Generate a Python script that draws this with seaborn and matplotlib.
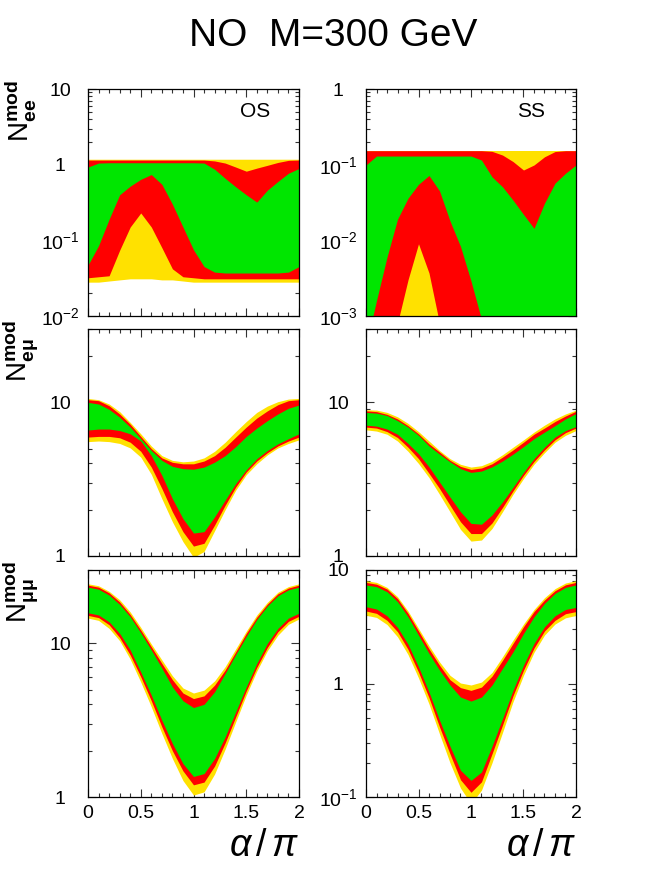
import numpy as np
import matplotlib
matplotlib.use("Agg")
import matplotlib.pyplot as plt
import matplotlib.ticker as mticker
import seaborn as sns

# alpha / pi grid
alpha = [0.0, 0.1, 0.2, 0.3, 0.4, 0.5, 0.6, 0.7, 0.8, 0.9, 1.0,
         1.1, 1.2, 1.3, 1.4, 1.5, 1.6, 1.7, 1.8, 1.9, 2.0]

# N_ee, OS
ee_os_y_lo = [0.028, 0.028, 0.029, 0.030, 0.031, 0.031, 0.031, 0.030, 0.030, 0.029, 0.028,
              0.028, 0.028, 0.028, 0.028, 0.028, 0.028, 0.028, 0.028, 0.028, 0.028]
ee_os_y_hi = [1.18, 1.18, 1.18, 1.18, 1.18, 1.18, 1.18, 1.18, 1.18, 1.18, 1.18,
              1.18, 1.18, 1.18, 1.18, 1.18, 1.18, 1.18, 1.18, 1.18, 1.18]
ee_os_r_lo = [0.032, 0.033, 0.034, 0.074, 0.15, 0.23, 0.15, 0.08, 0.042, 0.033, 0.032,
              0.031, 0.031, 0.031, 0.031, 0.031, 0.031, 0.031, 0.031, 0.031, 0.031]
ee_os_r_hi = [1.15, 1.15, 1.15, 1.15, 1.15, 1.15, 1.15, 1.15, 1.15, 1.15, 1.15,
              1.15, 1.12, 1.05, 0.93, 0.82, 0.90, 0.98, 1.07, 1.14, 1.15]
ee_os_g_lo = [0.047, 0.085, 0.19, 0.40, 0.52, 0.64, 0.74, 0.55, 0.30, 0.15, 0.075,
              0.045, 0.038, 0.037, 0.037, 0.037, 0.037, 0.037, 0.037, 0.038, 0.045]
ee_os_g_hi = [0.93, 1.05, 1.06, 1.06, 1.06, 1.06, 1.06, 1.06, 1.06, 1.06, 1.06,
              1.05, 0.87, 0.66, 0.51, 0.40, 0.32, 0.46, 0.60, 0.77, 0.89]

# N_ee, SS
ee_ss_y_lo = [0.0005, 0.0005, 0.0005, 0.0005, 0.0005, 0.0005, 0.0005, 0.0005, 0.0005, 0.0005, 0.0005,
              0.0005, 0.0005, 0.0005, 0.0005, 0.0005, 0.0005, 0.0005, 0.0005, 0.0005, 0.0005]
ee_ss_y_hi = [0.153, 0.153, 0.153, 0.153, 0.153, 0.153, 0.153, 0.153, 0.153, 0.153, 0.153,
              0.153, 0.153, 0.153, 0.153, 0.153, 0.153, 0.153, 0.153, 0.153, 0.153]
ee_ss_r_lo = [0.0005, 0.0005, 0.0005, 0.0008, 0.0030, 0.0090, 0.0037, 0.0008, 0.0005, 0.0005, 0.0005,
              0.0005, 0.0005, 0.0005, 0.0005, 0.0005, 0.0005, 0.0005, 0.0005, 0.0005, 0.0005]
ee_ss_r_hi = [0.153, 0.153, 0.153, 0.153, 0.153, 0.153, 0.153, 0.153, 0.153, 0.153, 0.153,
              0.153, 0.150, 0.134, 0.110, 0.085, 0.099, 0.127, 0.149, 0.153, 0.153]
ee_ss_g_lo = [0.0004, 0.0016, 0.006, 0.019, 0.036, 0.055, 0.072, 0.045, 0.018, 0.0083, 0.0029,
              0.0009, 0.0004, 0.0004, 0.0004, 0.0004, 0.0004, 0.0004, 0.0004, 0.0004, 0.0004]
ee_ss_g_hi = [0.099, 0.13, 0.13, 0.13, 0.13, 0.13, 0.13, 0.13, 0.13, 0.13, 0.13,
              0.115, 0.069, 0.051, 0.034, 0.022, 0.0144, 0.031, 0.057, 0.077, 0.099]

# N_emu, OS
em_os_y_lo = [5.55, 5.6, 5.55, 5.4, 5.05, 4.4, 3.4, 2.36, 1.67, 1.24, 0.98,
              1.07, 1.46, 2.0, 2.68, 3.38, 3.98, 4.55, 5.05, 5.4, 5.7]
em_os_y_hi = [10.6, 10.4, 9.75, 8.7, 7.4, 6.24, 5.2, 4.5, 4.19, 4.1, 4.15,
              4.35, 4.8, 5.5, 6.45, 7.5, 8.6, 9.45, 10.1, 10.5, 10.6]
em_os_r_lo = [5.94, 6.0, 6.0, 5.88, 5.5, 4.8, 3.79, 2.75, 1.94, 1.44, 1.16,
              1.21, 1.59, 2.14, 2.81, 3.52, 4.15, 4.7, 5.2, 5.6, 5.94]
em_os_r_hi = [10.4, 10.25, 9.5, 8.4, 7.2, 6.0, 5.0, 4.35, 4.07, 3.98, 3.98,
              4.15, 4.5, 5.1, 5.94, 6.9, 7.9, 8.8, 9.65, 10.25, 10.4]
em_os_g_lo = [6.6, 6.7, 6.7, 6.55, 6.24, 5.6, 4.5, 3.35, 2.36, 1.75, 1.41,
              1.44, 1.8, 2.31, 2.96, 3.64, 4.3, 4.86, 5.37, 5.8, 6.24]
em_os_g_hi = [10.0, 9.75, 9.0, 8.0, 6.9, 5.8, 4.86, 4.19, 3.83, 3.7, 3.67,
              3.79, 4.08, 4.5, 5.15, 6.0, 6.8, 7.6, 8.4, 9.15, 9.6]

# N_emu, SS
em_ss_y_lo = [6.62, 6.5, 6.2, 5.6, 4.8, 4.0, 3.24, 2.52, 1.94, 1.49, 1.25,
              1.27, 1.51, 1.94, 2.52, 3.19, 3.95, 4.7, 5.5, 6.1, 6.55]
em_ss_y_hi = [8.95, 8.9, 8.6, 8.05, 7.3, 6.45, 5.6, 4.86, 4.3, 3.95, 3.79,
              3.87, 4.13, 4.56, 5.1, 5.7, 6.4, 7.1, 7.8, 8.4, 8.9]
em_ss_r_lo = [6.9, 6.8, 6.45, 5.9, 5.1, 4.3, 3.45, 2.75, 2.14, 1.67, 1.40,
              1.40, 1.64, 2.07, 2.65, 3.35, 4.12, 4.9, 5.7, 6.35, 6.8]
em_ss_r_hi = [8.8, 8.7, 8.35, 7.8, 7.05, 6.24, 5.37, 4.75, 4.19, 3.83, 3.66,
              3.74, 3.98, 4.4, 4.9, 5.5, 6.2, 6.8, 7.5, 8.15, 8.75]
em_ss_g_lo = [7.1, 7.0, 6.7, 6.2, 5.4, 4.63, 3.8, 3.03, 2.42, 1.94, 1.63,
              1.61, 1.85, 2.25, 2.8, 3.5, 4.3, 5.1, 5.94, 6.55, 6.95]
em_ss_g_hi = [8.6, 8.5, 8.2, 7.6, 6.9, 6.1, 5.2, 4.6, 4.1, 3.7, 3.5,
              3.57, 3.8, 4.15, 4.6, 5.15, 5.8, 6.4, 7.05, 7.8, 8.45]

# N_mumu, OS
mm_os_y_lo = [14.6, 14.1, 12.5, 10.4, 7.9, 5.6, 3.86, 2.59, 1.78, 1.28, 1.03,
              1.08, 1.41, 2.05, 3.08, 4.6, 6.6, 8.95, 11.3, 13.3, 14.4]
mm_os_y_hi = [24.4, 23.7, 21.8, 19.2, 16.0, 12.7, 9.9, 7.8, 6.15, 5.12, 4.75,
              4.96, 5.7, 7.05, 9.2, 12.0, 15.3, 18.5, 21.5, 23.4, 24.4]
mm_os_r_lo = [15.2, 14.7, 13.2, 10.9, 8.4, 6.06, 4.23, 2.86, 2.0, 1.48, 1.2,
              1.25, 1.59, 2.25, 3.32, 4.9, 6.97, 9.4, 11.9, 13.9, 15.0]
mm_os_r_hi = [23.9, 23.2, 21.3, 18.6, 15.4, 12.2, 9.5, 7.4, 5.8, 4.75, 4.37,
              4.55, 5.35, 6.7, 8.8, 11.6, 14.8, 18.0, 21.0, 22.9, 23.9]
mm_os_g_lo = [15.8, 15.3, 13.8, 11.6, 9.05, 6.5, 4.6, 3.16, 2.23, 1.65, 1.36,
              1.42, 1.78, 2.46, 3.58, 5.2, 7.4, 10.0, 12.5, 14.6, 15.7]
mm_os_g_hi = [23.2, 22.5, 20.6, 17.9, 14.9, 11.7, 9.05, 6.9, 5.2, 4.23, 3.82,
              4.01, 4.84, 6.37, 8.45, 11.1, 14.3, 17.5, 20.4, 22.3, 23.2]

# N_mumu, SS
mm_ss_y_lo = [4.0, 3.82, 3.31, 2.58, 1.8, 1.12, 0.66, 0.36, 0.2, 0.12, 0.087,
              0.115, 0.2, 0.37, 0.69, 1.18, 1.88, 2.67, 3.34, 3.79, 3.98]
mm_ss_y_hi = [8.05, 7.78, 7.03, 5.82, 4.35, 3.06, 2.15, 1.55, 1.18, 1.01, 0.97,
              1.03, 1.25, 1.72, 2.41, 3.34, 4.49, 5.7, 6.85, 7.68, 8.05]
mm_ss_r_lo = [4.35, 4.15, 3.6, 2.86, 2.0, 1.26, 0.75, 0.415, 0.24, 0.142, 0.11,
              0.136, 0.24, 0.43, 0.78, 1.31, 2.05, 2.9, 3.6, 4.12, 4.3]
mm_ss_r_hi = [7.78, 7.5, 6.8, 5.6, 4.15, 2.9, 2.02, 1.45, 1.08, 0.92, 0.87,
              0.93, 1.16, 1.6, 2.25, 3.16, 4.3, 5.44, 6.57, 7.4, 7.78]
mm_ss_g_lo = [4.75, 4.53, 3.95, 3.12, 2.22, 1.40, 0.84, 0.475, 0.28, 0.172, 0.14,
              0.166, 0.28, 0.49, 0.87, 1.45, 2.25, 3.16, 3.95, 4.49, 4.68]
mm_ss_g_hi = [7.38, 7.13, 6.44, 5.26, 3.87, 2.67, 1.84, 1.31, 0.97, 0.76, 0.70,
              0.76, 0.97, 1.36, 1.90, 2.76, 3.87, 5.08, 6.22, 7.03, 7.38]

x_ticks = [0, 0.5, 1, 1.5, 2]
x_ticklabels = ["0", "0.5", "1", "1.5", "2"]

yellow, red, green = "#ffe100", "#ff0000", "#00e600"

sns.set_style("ticks")
plt.rcParams["font.family"] = ["Liberation Sans", "DejaVu Sans"]
plt.rcParams["mathtext.fontset"] = "custom"
plt.rcParams["mathtext.rm"] = "Liberation Sans"
plt.rcParams["mathtext.it"] = "Liberation Sans:italic"
plt.rcParams["mathtext.bf"] = "Liberation Sans:bold"
for k in ["text.color", "axes.labelcolor", "xtick.color", "ytick.color", "axes.edgecolor"]:
    plt.rcParams[k] = "black"

panels = [
    # row, col, bands, ylim, yticks, yticklabels, tag, ylabel
    (0, 0, (ee_os_y_lo, ee_os_y_hi, ee_os_r_lo, ee_os_r_hi, ee_os_g_lo, ee_os_g_hi),
     (0.01, 10), [0.01, 0.1, 1, 10], ["$10^{-2}$", "$10^{-1}$", "1", "10"], "OS",
     r"$\mathrm{N}^{\mathbf{mod}}_{\mathbf{ee}}$"),
    (0, 1, (ee_ss_y_lo, ee_ss_y_hi, ee_ss_r_lo, ee_ss_r_hi, ee_ss_g_lo, ee_ss_g_hi),
     (0.001, 1), [0.001, 0.01, 0.1, 1], ["$10^{-3}$", "$10^{-2}$", "$10^{-1}$", "1"], "SS", None),
    (1, 0, (em_os_y_lo, em_os_y_hi, em_os_r_lo, em_os_r_hi, em_os_g_lo, em_os_g_hi),
     (1, 30), [1, 10], ["1", "10"], None,
     r"$\mathrm{N}^{\mathbf{mod}}_{\mathbf{e\mu}}$"),
    (1, 1, (em_ss_y_lo, em_ss_y_hi, em_ss_r_lo, em_ss_r_hi, em_ss_g_lo, em_ss_g_hi),
     (1, 30), [1, 10], ["1", "10"], None, None),
    (2, 0, (mm_os_y_lo, mm_os_y_hi, mm_os_r_lo, mm_os_r_hi, mm_os_g_lo, mm_os_g_hi),
     (1, 30), [1, 10], ["1", "10"], None,
     r"$\mathrm{N}^{\mathbf{mod}}_{\mathbf{\mu\mu}}$"),
    (2, 1, (mm_ss_y_lo, mm_ss_y_hi, mm_ss_r_lo, mm_ss_r_hi, mm_ss_g_lo, mm_ss_g_hi),
     (0.1, 10), [0.1, 1, 10], ["$10^{-1}$", "1", "10"], None, None),
]

W, H = 664, 886
fig = plt.figure(figsize=(W / 100, H / 100), dpi=100)

col_left = [88, 366]
col_width = [211, 210]
row_top = [89, 329, 570]
row_h = 227

for row, col, bands, ylim, yt, ytl, tag, ylabel in panels:
    ax = fig.add_axes([col_left[col] / W, 1 - (row_top[row] + row_h) / H,
                       col_width[col] / W, row_h / H])
    y_lo, y_hi, r_lo, r_hi, g_lo, g_hi = bands
    ax.fill_between(alpha, y_lo, y_hi, color=yellow, lw=0)
    ax.fill_between(alpha, r_lo, r_hi, color=red, lw=0)
    ax.fill_between(alpha, g_lo, g_hi, color=green, lw=0)

    ax.set_yscale("log")
    ax.set_ylim(*ylim)
    ax.set_xlim(0, 2)
    ax.set_yticks(yt)
    ax.set_yticklabels(ytl, ha="center")
    ax.yaxis.set_minor_locator(mticker.LogLocator(base=10, subs=np.arange(2, 10), numticks=20))
    ax.yaxis.set_minor_formatter(mticker.NullFormatter())
    ax.set_xticks(x_ticks)
    ax.xaxis.set_minor_locator(mticker.MultipleLocator(0.1))
    if row == 2:
        ax.set_xticklabels(x_ticklabels)
    else:
        ax.set_xticklabels([])

    ax.tick_params(which="both", direction="in", top=True, right=True, width=0.8, color="#333333")
    ax.tick_params(which="major", length=5.5, labelsize=14)
    ax.tick_params(which="minor", length=3)
    ax.tick_params(axis="y", which="major", pad=20)
    ax.tick_params(axis="x", which="major", pad=6)
    for s in ax.spines.values():
        s.set_linewidth(0.9)

    if tag:
        ax.text(0.862 if col == 0 else 0.852, 0.9, tag, transform=ax.transAxes,
                ha="right", va="center", fontsize=15)
    if ylabel:
        fig.text(20 / W, 1 - (row_top[row] - 9) / H, ylabel, rotation=90,
                 ha="center", va="top", fontsize=20)
    if row == 2:
        fig.text((col_left[col] + col_width[col]) / W, 1 - 846 / H, r"$\alpha\,/\,\pi$",
                 ha="right", va="center", fontsize=27)

fig.text(333 / W, 1 - 36 / H, "NO  M=300 GeV", ha="center", va="center", fontsize=28)

fig.savefig("out.png", dpi=100)
